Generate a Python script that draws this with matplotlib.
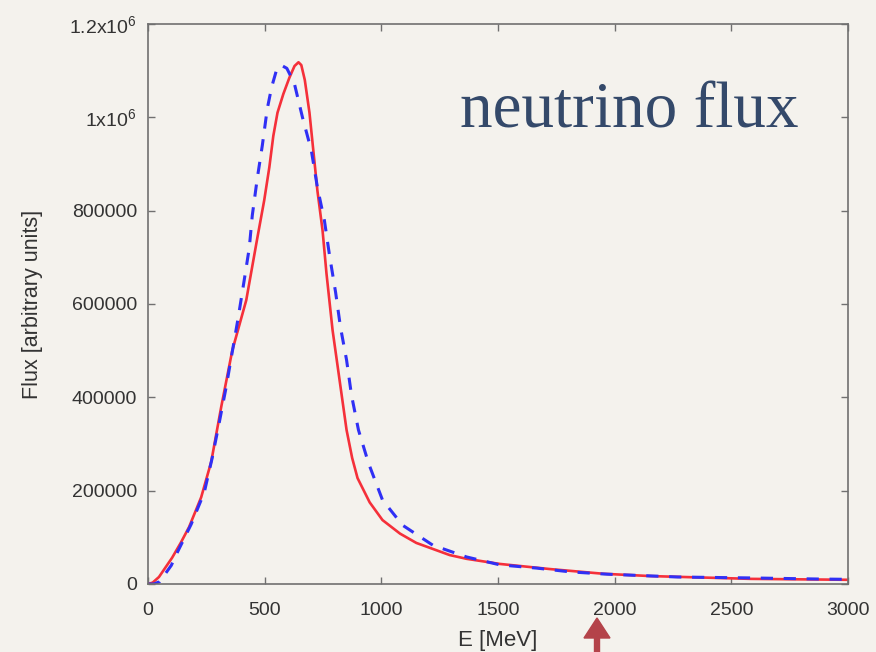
import matplotlib.pyplot as plt
from matplotlib.patches import FancyArrow

# red solid curve
red_e = [0, 20, 47, 103, 140, 176, 228, 271, 314, 361, 421, 468, 498, 520, 537,
         555, 580, 606, 628, 645, 657, 672, 692, 726, 748, 765, 791, 821, 851, 875,
         898, 950, 1005, 1080, 1150, 1293, 1365, 1508, 1723, 1950, 2153, 2583, 3000]
red_flux = [0, 3000, 15000, 56000, 88000, 122000, 186000, 262000, 380000, 500000,
            608000, 740000, 822000, 893000, 960000, 1010000, 1050000, 1085000,
            1110000, 1118000, 1112000, 1080000, 1010000, 843000, 758000, 665000,
            544000, 437000, 330000, 270000, 227000, 175000, 137000, 108000, 88000,
            62000, 54000, 43000, 32000, 22000, 17000, 11000, 9000]

# blue dashed curve
blue_e = [0, 25, 50, 100, 120, 185, 241, 275, 305, 335, 361, 387, 412, 434, 447,
          468, 490, 511, 530, 550, 570, 595, 627, 662, 700, 726, 756, 778, 804, 825,
          851, 872, 902, 945, 1005, 1091, 1221, 1365, 1508, 1667, 1809, 1968, 2269,
          2583, 2870, 3000]
blue_flux = [0, 0, 5000, 40000, 62000, 128000, 196000, 270000, 345000, 422000,
             497000, 572000, 650000, 720000, 790000, 868000, 940000, 1018000,
             1065000, 1100000, 1112000, 1105000, 1073000, 1000000, 929000, 850000,
             779000, 704000, 625000, 550000, 480000, 405000, 330000, 259000, 180000,
             126000, 83000, 58000, 41000, 34000, 26000, 21000, 15000, 13000, 10700,
             10000]

x_ticks = [0, 500, 1000, 1500, 2000, 2500, 3000]
y_ticks = [0, 200000, 400000, 600000, 800000, 1000000, 1200000]
y_tick_labels = ["0", "200000", "400000", "600000", "800000",
                 r"1x10$^6$", r"1.2x10$^6$"]

bg = "#f4f2ed"
plt.rcParams["font.family"] = ["Liberation Sans", "DejaVu Sans"]
plt.rcParams["mathtext.default"] = "regular"

fig = plt.figure(figsize=(8.76, 6.52), dpi=100, facecolor=bg)
ax = fig.add_axes([148 / 876, 1 - 584 / 652, 700 / 876, 560 / 652], facecolor=bg)

ax.plot(red_e, red_flux, color="#f5303a", lw=1.9, solid_joinstyle="round")
ax.plot(blue_e, blue_flux, color="#3030f5", lw=2.2, linestyle=(0, (4, 3.5)))

ax.set_xlim(0, 3000)
ax.set_ylim(0, 1200000)
ax.set_xticks(x_ticks)
ax.set_yticks(y_ticks)
ax.set_yticklabels(y_tick_labels)

for s in ax.spines.values():
    s.set_color("#707070")
    s.set_linewidth(1.2)
ax.tick_params(direction="in", length=5, width=1, color="#707070",
               top=True, right=True, labelsize=14, labelcolor="#333333")
ax.tick_params(axis="x", pad=13)
ax.tick_params(axis="y", pad=8)

ax.set_xlabel("E [MeV]", fontsize=16, color="#333333")
ax.set_ylabel("Flux [arbitrary units]", fontsize=15.5, color="#333333")
ax.xaxis.set_label_coords(0.5, -0.082)
ax.yaxis.set_label_coords(-0.15, 0.5)

fig.text(460 / 876, 1 - 127 / 652, "neutrino flux", fontsize=47,
         family=["Liberation Serif", "DejaVu Serif"], color="#34496a",
         ha="left", va="baseline")

# red arrow below the axis, pointing up at ~2000 MeV
arrow = FancyArrow(597 / 876, 0.0, 0, 34 / 652, width=5 / 876, head_width=26 / 876,
                   head_length=20 / 652, length_includes_head=True,
                   color="#b4434a", transform=fig.transFigure, clip_on=False)
fig.patches.append(arrow)

fig.savefig("out.png", dpi=100, facecolor=bg)
